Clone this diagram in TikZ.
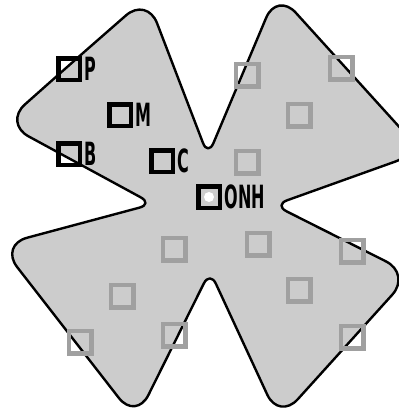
\documentclass[tikz,border=0pt]{standalone}
\usepackage{fontspec}
\newfontfamily\lblfont[FakeStretch=0.5]{DejaVu Sans}
\usetikzlibrary{positioning}
\definecolor{retina}{HTML}{CCCCCC}
\definecolor{patch}{HTML}{A0A0A0}

\begin{document}
\begin{tikzpicture}[
  x=1pt,y=-1pt,
  outline/.style={draw=black,line width=2.4pt,fill=retina,line join=round},
  sq/.style={draw=black,line width=4.5pt,minimum size=21.5pt,inner sep=0pt},
  gsq/.style={draw=patch,line width=4.5pt,minimum size=22.5pt,inner sep=0pt},
  lbl/.style={font=\lblfont\bfseries\fontsize{32}{32}\selectfont,inner sep=0pt},
  tip/.style={rounded corners=28pt},
  notch/.style={rounded corners=14pt},
]
\useasboundingbox (0,0) rectangle (399,408);

% flattened retina, four petals
\draw[outline] (75,60) [tip] -- (147,-3) [notch] -- (208,156)
  [tip] -- (277,-8) [tip] -- (422,152) [notch] -- (274,205)
  [tip] -- (411,274) [tip] -- (279,420) [notch] -- (210,271)
  [tip] -- (136,420) [tip] -- (0,245) [notch] -- (153,204)
  [tip] -- (4,123) -- cycle;

% unlabelled samples
\foreach \x/\y [count=\i] in {247/75,341/68,299/115,247/162,174/249,122/296,
                              80/342,174/335,258/244,352/251,299/290,352/337}
  \node[gsq] (s\i) at (\x,\y) {};

% labelled samples
\node[sq] (p) at (69,69) {};
\node[sq] (m) at (120,115) {};
\node[sq] (b) at (69,154) {};
\node[sq] (c) at (162,161) {};
\node[sq] (onh) at (209,197) {};
\fill[white] (onh.center) circle (5pt);

\node[lbl,right=2.5pt of p] (lp) {P};
\node[lbl,right=2.5pt of m] (lm) {M};
\node[lbl,right=2.5pt of b] (lb) {B};
\node[lbl,right=2.5pt of c] (lc) {C};
\node[lbl,right=2.5pt of onh] (lonh) {ONH};
\end{tikzpicture}
\end{document}
